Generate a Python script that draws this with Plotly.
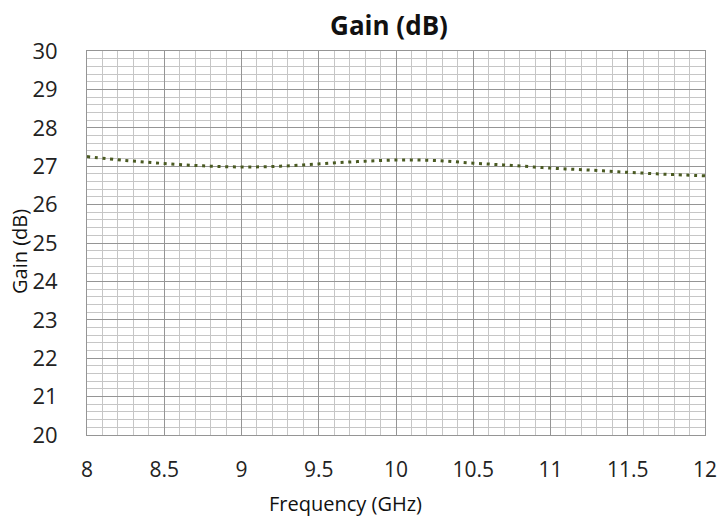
import plotly.graph_objects as go

freq_ghz = [8, 8.25, 8.5, 8.75, 9, 9.25, 9.5, 9.75, 10, 10.25, 10.5, 10.75, 11, 11.25, 11.5, 11.75, 12]
gain_db = [27.25, 27.15, 27.07, 27.01, 26.98, 27.0, 27.06, 27.12, 27.16, 27.15, 27.08, 27.02, 26.95, 26.9, 26.84, 26.79, 26.75]

x_ticks = [8, 8.5, 9, 9.5, 10, 10.5, 11, 11.5, 12]
x_tick_labels = ["8", "8.5", "9", "9.5", "10", "10.5", "11", "11.5", "12"]
y_ticks = list(range(20, 31))

FONT = "Open Sans, Noto Sans, sans-serif"

W, H = 720, 519
# plot area in page pixels
PX0, PX1, PY0, PY1 = 87, 705, 51, 435
PW, PH = PX1 - PX0, PY1 - PY0
L, T = PX0, PY0
R, B = W - L - PW, H - T - PH

fig = go.Figure()
fig.add_trace(go.Scatter(
    x=freq_ghz, y=gain_db, mode="lines",
    line=dict(color="#4a5a22", width=3, dash="3px,4.7px", shape="spline"),
    hoverinfo="x+y", showlegend=False,
))

fig.update_layout(
    width=W, height=H,
    margin=dict(l=L, r=R, t=T, b=B, autoexpand=False),
    paper_bgcolor="white", plot_bgcolor="white",
    font=dict(family=FONT, color="#1a1a1a"),
    title=dict(text="<b>Gain (dB)</b>", x=389 / W, xref="container", xanchor="center",
               y=1 - 26 / H, yref="container", yanchor="middle",
               font=dict(size=26, family=FONT, color="#111")),
    xaxis=dict(
        range=[8, 12], tickmode="array", tickvals=x_ticks, ticktext=x_tick_labels,
        showgrid=True, gridcolor="#959595", gridwidth=1,
        minor=dict(dtick=0.1, showgrid=True, gridcolor="#c6c6c6", gridwidth=1),
        showline=True, linecolor="#959595", mirror=True, zeroline=False,
        ticks="", tickfont=dict(size=21, family=FONT, color="#222"),
        ticklabelstandoff=16, automargin=False,
    ),
    yaxis=dict(
        range=[20, 30], tickmode="array", tickvals=y_ticks,
        showgrid=True, gridcolor="#959595", gridwidth=1,
        minor=dict(dtick=0.2, showgrid=True, gridcolor="#c6c6c6", gridwidth=1),
        showline=True, linecolor="#959595", mirror=True, zeroline=False,
        ticks="", tickfont=dict(size=22, family=FONT, color="#222"),
        ticklabelstandoff=24, automargin=False,
    ),
    annotations=[
        dict(text="Frequency (GHz)", xref="paper", yref="paper",
             x=(345 - PX0) / PW, y=-(503 - PY1) / PH, xanchor="center", yanchor="middle",
             showarrow=False, font=dict(size=20, family=FONT, color="#111")),
        dict(text="Gain (dB)", xref="paper", yref="paper", textangle=-90,
             x=-(PX0 - 19) / PW, y=(PY1 - 252) / PH, xanchor="center", yanchor="middle",
             showarrow=False, font=dict(size=20, family=FONT, color="#111")),
    ],
)

fig.write_html(
    "out.html",
    config={"displayModeBar": False},
    post_script="document.body.style.margin='0';document.body.style.overflow='hidden';",
)
